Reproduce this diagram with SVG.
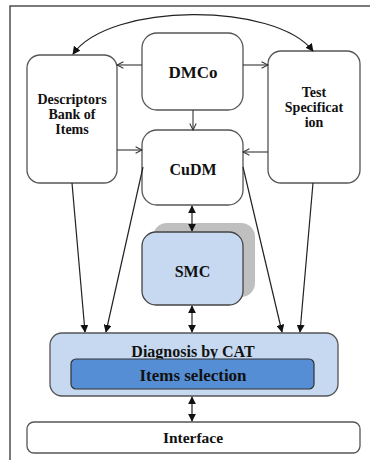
<svg xmlns="http://www.w3.org/2000/svg" width="370" height="460" viewBox="0 0 370 460">
<style>
.box{fill:#fff;stroke:#555;stroke-width:1.3}
.t{font-family:"Liberation Serif","DejaVu Serif",serif;font-weight:bold;fill:#111;text-anchor:middle}
.c{fill:none;stroke:#222;stroke-width:1.2}
.o{fill:none;stroke:#333;stroke-width:1.1}
</style>
<defs>
<marker id="ah" viewBox="0 0 10 10" refX="9" refY="5" markerWidth="8" markerHeight="8" orient="auto-start-reverse" markerUnits="userSpaceOnUse">
<path d="M0,0 L10,5 L0,10 z" fill="#111"/>
</marker>
<marker id="oh" viewBox="0 0 10 10" refX="9" refY="5" markerWidth="8" markerHeight="8" orient="auto" markerUnits="userSpaceOnUse">
<path d="M1,1 L9,5 L1,9" fill="none" stroke="#333" stroke-width="1.3"/>
</marker>
</defs>
<rect x="10" y="6" width="420" height="520" fill="#fff" stroke="#333" stroke-width="1.3"/>
<g id="dmco">
<rect class="box" x="142" y="33" width="101" height="77" rx="15"/>
<text class="t" x="193" y="78" font-size="17">DMCo</text>
</g>
<g id="descriptors">
<rect class="box" x="27" y="55" width="90" height="128" rx="13"/>
<text class="t" font-size="14"><tspan x="72" y="104">Descriptors</tspan><tspan x="72" y="119">Bank of</tspan><tspan x="72" y="134">Items</tspan></text>
</g>
<g id="testspec">
<rect class="box" x="268" y="51" width="92" height="132" rx="13"/>
<text class="t" font-size="14"><tspan x="314" y="97">Test</tspan><tspan x="314" y="112">Specificat</tspan><tspan x="314" y="127">ion</tspan></text>
</g>
<g id="cudm">
<rect class="box" x="142" y="130" width="101" height="75" rx="15"/>
<text class="t" x="193" y="175" font-size="16">CuDM</text>
</g>
<g id="smc">
<rect x="153" y="223" width="102" height="74" rx="14" fill="#bfbfbf"/>
<rect x="142" y="232" width="101" height="73" rx="14" fill="#c6d9f1" stroke="#444" stroke-width="1.3"/>
<text class="t" x="192.5" y="277" font-size="16">SMC</text>
</g>
<g id="diagnosis">
<rect x="50" y="333" width="288" height="63" rx="12" fill="#c6d9f1" stroke="#555" stroke-width="1.3"/>
<text class="t" x="193" y="357" font-size="16">Diagnosis by CAT</text>
<g id="items">
<rect x="71" y="359" width="243" height="30" rx="5" fill="#558ed5" stroke="#333" stroke-width="1.2"/>
<text class="t" x="193" y="381" font-size="17">Items selection</text>
</g>
</g>
<g id="interface">
<rect class="box" x="27" y="422" width="333" height="31" rx="7"/>
<text class="t" x="193" y="443" font-size="15.5">Interface</text>
</g>
<g id="connectors">
<path class="c" d="M73,54 C110,2 275,2 313,51" marker-start="url(#ah)" marker-end="url(#ah)"/>
<line class="o" x1="142" y1="65" x2="117" y2="65" marker-end="url(#oh)"/>
<line class="o" x1="243" y1="65" x2="268" y2="65" marker-end="url(#oh)"/>
<line class="o" x1="193" y1="110" x2="193" y2="130" marker-end="url(#oh)"/>
<line class="o" x1="117" y1="150" x2="142" y2="150" marker-end="url(#oh)"/>
<line class="o" x1="268" y1="152" x2="243" y2="152" marker-end="url(#oh)"/>
<line class="c" x1="192" y1="206" x2="192" y2="231" marker-start="url(#ah)" marker-end="url(#ah)"/>
<line class="c" x1="192" y1="306" x2="192" y2="332" marker-start="url(#ah)" marker-end="url(#ah)"/>
<line class="c" x1="192" y1="397" x2="192" y2="421" marker-start="url(#ah)" marker-end="url(#ah)"/>
<line class="c" x1="72" y1="183" x2="85" y2="332" marker-end="url(#ah)"/>
<line class="c" x1="143" y1="167" x2="106" y2="332" marker-end="url(#ah)"/>
<line class="c" x1="243" y1="167" x2="282" y2="332" marker-end="url(#ah)"/>
<line class="c" x1="313" y1="183" x2="300" y2="332" marker-end="url(#ah)"/>
</g>
</svg>
